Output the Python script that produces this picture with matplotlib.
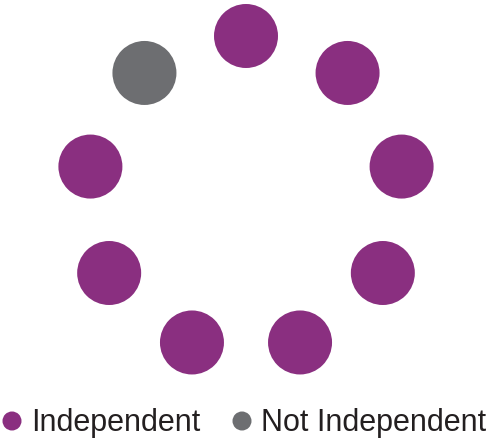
import numpy as np
import matplotlib
matplotlib.use("Agg")
import matplotlib.pyplot as plt
from matplotlib.patches import Circle

plt.rcParams["font.family"] = ["Liberation Sans", "DejaVu Sans"]

# one dot per member, clockwise from the top
status = ["Independent"] * 8 + ["Not Independent"]
labels = ["Independent", "Not Independent"]
COLORS = {"Independent": "#8a2f80", "Not Independent": "#6d6e71"}

W, H = 491, 443
fig = plt.figure(figsize=(W / 100, H / 100), dpi=100)
ax = fig.add_axes([0, 0, 1, 1])
ax.set_xlim(0, W)
ax.set_ylim(H, 0)
ax.set_aspect("equal")
ax.axis("off")

# ring layout
cx, cy, R, r = 246, 194, 158, 32
n = len(status)
for i, s in enumerate(status):
    a = np.deg2rad(90 - i * 360 / n)
    ax.add_patch(Circle((cx + R * np.cos(a), cy - R * np.sin(a)), r,
                        color=COLORS[s], lw=0))

# legend along the bottom
for lab, x in zip(labels, (12, 242)):
    ax.add_patch(Circle((x, 421), 9.5, color=COLORS[lab], lw=0))
    ax.text(x + 19, 431, lab, fontsize=22, color="#231f20",
            va="baseline", ha="left")

fig.savefig("out.png", dpi=100, facecolor="white")
